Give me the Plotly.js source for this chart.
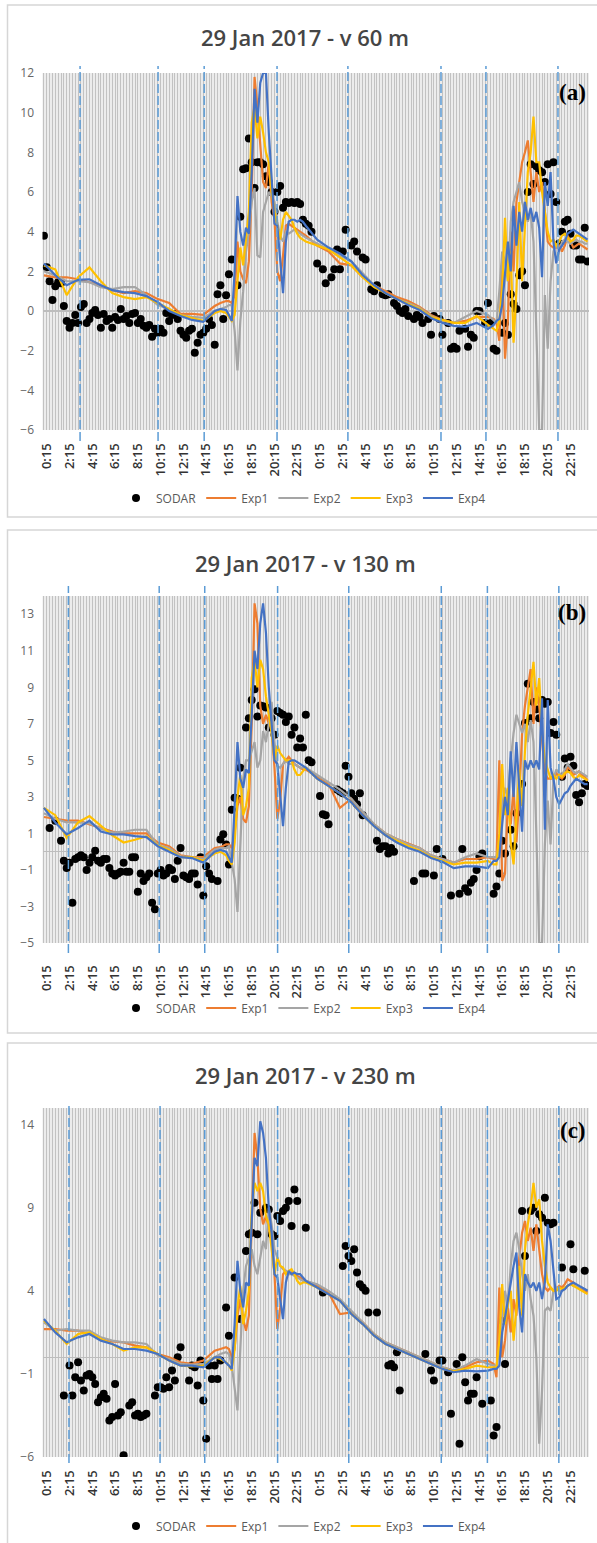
<!DOCTYPE html>
<html><head><meta charset="utf-8">
<script src="https://cdn.plot.ly/plotly-3.0.1.min.js"></script>
<style>html,body{margin:0;padding:0;background:#fff}#chart{width:597px;height:1543px}</style>
</head><body><div id="chart"></div>
<script>
// ---------------- DATA ----------------
// 15-min categories over two days (0:00 ... 23:45, twice)
const N_CAT = 192;
const CATEGORIES = [];
for (let i = 0; i < N_CAT; i++) { const m = (i % 96) * 15; CATEGORIES.push(Math.floor(m / 60) + ':' + String(m % 60).padStart(2, '0')); }
const LABEL_STEP = 8, LABEL_OFFSET = 1; // labels 0:15, 2:15, ...

// category indices at which the model curves were read
const MODEL_T = [0,4,8,12,16,20,24,28,32,36,40,44,48,52,56,60,62,64,
 65,66,67,68,69,70,71,72,73,74,75,76,77,78,79,80,81,82,83,84,85,86,87,88,89,90,91,92,
 96,100,104,108,112,116,120,124,128,132,136,140,144,148,152,156,158,
 159,160,161,162,163,164,165,166,167,168,169,170,171,172,173,174,175,176,177,178,179,180,181,182,183,184,185,186,187,188,189,190,191];

// ---- panel (a) 60 m ----
const A_EXP1 = [1.8,1.7,1.7,1.6,1.45,1.3,1.05,0.9,1.0,0.9,0.6,0.4,-0.15,-0.15,-0.2,0.25,0.4,0.5,
 0.5,0.4,0.8,3.5,2.0,1.6,1.4,2.5,6.0,11.8,10.3,8.5,6.5,6.2,7.5,5.5,4.6,2.0,1.5,2.8,4.3,4.4,4.3,4.2,4.1,4.0,3.9,3.8,
 3.3,3.0,2.4,2.3,1.7,1.3,1.0,0.7,0.5,0.2,-0.2,-0.45,-0.6,-0.5,-0.3,-0.3,-0.4,
 -0.6,-1.5,2.5,-2.4,-0.5,4.0,2.0,5.5,6.5,7.5,8.0,8.6,7.0,5.5,7.0,6.0,6.5,5.0,3.5,3.3,3.2,3.2,3.3,3.0,3.3,3.8,3.5,3.2,3.3,3.4,3.3,3.2,3.1];
const A_EXP2 = [2.0,1.8,1.5,1.5,1.45,1.2,1.1,1.2,1.2,0.8,0.3,0.1,-0.2,-0.3,-0.35,0.0,0.1,0.2,
 0.3,0.3,-1.0,-3.0,-0.5,1.0,3.0,4.0,5.5,6.2,2.8,2.7,5.0,5.5,6.0,5.8,5.5,4.5,3.8,3.5,4.0,3.9,4.0,4.1,4.0,3.9,3.8,3.7,
 3.4,3.1,2.8,2.5,1.9,1.3,0.9,0.6,0.4,0.15,-0.25,-0.5,-0.6,-0.3,0.0,-0.2,-0.5,
 -0.6,1.0,3.0,2.5,1.5,4.5,5.5,6.0,6.5,5.5,5.0,4.5,5.0,3.5,-1.0,-6.0,-6.0,0.8,-1.9,1.5,3.0,3.4,3.0,3.5,3.6,3.5,3.4,3.5,3.6,3.5,3.5,3.4,3.4];
const A_EXP3 = [2.3,2.1,0.8,1.7,2.2,1.5,0.9,0.7,0.6,0.7,0.4,0.1,-0.2,-0.35,-0.5,-0.1,0.0,-0.1,
 -0.3,-0.5,-0.2,1.5,3.2,2.3,3.5,5.0,9.5,10.3,8.7,9.8,9.0,8.0,7.5,6.0,5.0,4.2,3.6,4.6,5.0,4.8,4.6,4.2,3.9,3.7,3.6,3.5,
 3.3,3.1,2.7,2.3,1.7,1.2,0.9,0.6,0.35,0.1,-0.3,-0.45,-0.6,-0.6,-0.25,-0.7,-0.9,
 -1.0,-0.5,1.0,4.7,1.5,3.0,-1.6,1.0,5.5,1.5,4.0,7.0,8.0,9.8,7.5,7.5,6.0,5.0,4.0,3.5,3.6,3.3,3.5,3.8,3.9,3.7,3.5,3.6,3.8,3.8,3.7,3.6,3.5];
const A_EXP4 = [2.4,1.8,1.3,1.57,1.6,1.3,1.05,0.95,0.9,0.75,0.45,0.0,-0.25,-0.45,-0.55,0.0,0.1,0.05,
 -0.2,-0.5,2.0,5.8,4.0,3.3,4.2,3.9,7.0,11.2,9.5,11.5,12.0,12.0,9.0,6.5,4.4,4.3,2.6,0.9,3.5,4.5,4.6,4.6,4.5,4.6,4.5,4.3,
 3.6,3.2,2.9,2.5,1.8,1.3,0.9,0.6,0.3,0.05,-0.35,-0.6,-0.75,-0.8,-0.6,-0.9,-0.7,
 -0.5,-0.4,0.3,2.0,3.5,2.0,5.3,3.3,5.0,4.0,5.5,4.6,5.2,4.5,5.0,4.2,1.7,6.5,5.3,7.0,3.5,2.4,3.1,3.3,3.5,3.9,4.0,4.1,4.0,3.9,3.8,3.7,3.6];
const A_SODAR = [[0,3.8],[1,2.2],[2,1.5],[3,0.55],[4,1.25],[5,1.45],[6,1.4],[7,0.25],[8,-0.5],[9,-0.85],[10,-0.6],[11,-0.2],[12,-0.6],[13,0.2],[14,0.35],[15,-0.6],[16,-0.4],[17,-0.1],[18,0.05],[19,-0.2],[20,-0.85],[21,-0.15],[22,-0.5],[23,-0.4],[24,-0.85],[25,-0.3],[26,-0.45],[27,0.1],[28,-0.4],[29,-0.25],[30,-0.6],[31,-0.15],[32,-0.1],[33,-0.6],[34,-0.4],[35,-0.75],[36,-0.85],[37,-0.7],[38,-1.3],[39,-0.9],[40,-1.1],[41,-0.9],[42,-1.1],[43,-0.1],[44,-0.5],[45,-0.2],[46,-0.15],[47,-0.4],[48,-1.0],[49,-1.2],[50,-1.35],[51,-1.0],[52,-0.9],[53,-2.1],[54,-1.6],[55,-1.2],[56,-1.1],[57,-0.9],[58,-0.4],[59,-0.7],[60,-1.7],[61,0.85],[62,1.3],[63,-0.4],[64,0.8],[65,1.85],[66,2.6],
 [68,1.3],[69,4.75],[70,7.15],[71,7.2],[72,8.7],[73,7.5],[74,6.2],[75,7.5],[76,7.5],[77,7.4],[78,6.8],[79,6.5],[80,6.0],[81,5.0],[82,6.0],[83,6.3],[84,5.2],[85,5.5],[86,5.45],[87,5.5],[88,5.45],[89,5.5],[90,5.4],[91,4.6],[92,4.4],[93,4.3],[94,4.0],
 [96,2.4],[98,2.1],[99,1.4],[101,1.7],[102,2.1],[103,3.1],[104,2.1],[105,3.0],[106,4.1],[108,3.3],[109,3.5],[110,3.0],[112,2.7],[113,2.6],[115,1.1],[116,1.0],[117,1.3],[119,0.85],[120,0.8],[121,0.85],[123,0.4],[124,0.25],[125,0.0],[126,-0.1],[127,0.1],[128,-0.25],[130,-0.4],[131,-0.2],[132,-0.3],[133,-0.6],[135,-0.4],[136,-1.2],[137,-0.25],[139,-0.4],[140,-1.2],[142,-0.6],[143,-1.9],[144,-1.8],[145,-1.9],[146,-1.0],[148,-0.9],[149,-1.8],[150,-1.2],[151,-1.35],[152,0.0],[153,0.0],[155,-0.6],[156,0.4],[157,-0.6],[158,-1.9],[159,-2.0],
 [161,-1.1],[162,-0.6],[163,-1.2],[164,0.85],[165,0.35],[166,0.1],[167,1.8],[168,2.0],[169,1.3],[170,6.0],[171,7.4],[172,6.4],[173,7.3],[174,7.1],[175,7.0],[176,6.5],[177,7.4],[178,5.9],[179,7.5],[180,5.5],[181,3.4],[182,4.0],[183,4.5],[184,4.6],[185,3.9],[186,3.3],[187,3.3],[188,2.6],[189,2.6],[190,4.2],[191,2.5]];

// ---- panel (b) 130 m ----
const B_EXP1 = [1.9,1.8,1.7,1.7,1.5,1.3,1.1,1.0,1.0,1.0,0.5,0.3,-0.2,-0.3,-0.3,0.2,0.25,0.4,
 0.4,0.2,1.0,2.5,3.0,1.8,1.6,2.5,7.0,13.6,12.5,8.0,7.0,7.5,7.0,6.8,4.6,1.8,2.8,4.8,5.0,5.2,5.0,4.8,4.7,4.6,4.5,4.5,
 4.1,3.7,2.4,2.9,2.1,1.5,1.0,0.7,0.45,0.2,-0.2,-0.4,-0.6,-0.4,-0.4,-0.3,-0.4,
 -0.5,5.0,-1.6,-1.2,2.8,1.5,3.5,0.5,3.0,6.5,8.0,9.0,10.0,7.0,9.0,8.0,6.0,4.3,4.0,4.0,4.0,4.3,4.1,4.0,4.2,4.6,4.5,4.2,4.3,4.4,4.2,4.1,3.9];
const B_EXP2 = [2.1,1.8,1.6,1.6,1.55,1.25,1.05,1.1,1.2,1.2,0.35,0.2,-0.25,-0.3,-0.4,0.1,0.2,0.2,
 0.3,-0.5,-1.5,-3.3,0.0,4.0,5.0,5.0,5.5,6.0,4.6,5.0,6.6,6.0,7.0,8.2,6.0,4.7,4.6,4.8,5.0,4.8,4.8,4.8,4.7,4.6,4.6,4.6,
 4.2,3.8,3.4,2.9,2.2,1.5,1.0,0.7,0.4,0.2,-0.2,-0.4,-0.6,-0.3,-0.1,-0.3,-0.3,
 -0.3,0.5,2.5,3.5,3.0,5.0,6.5,7.5,7.0,6.5,7.0,6.0,7.2,6.0,1.0,-5.0,-5.0,0.4,2.8,0.4,4.0,4.5,4.3,4.2,4.5,4.8,4.6,4.4,4.3,4.4,4.3,4.2,4.1];
const B_EXP3 = [2.4,2.0,0.76,1.6,1.95,1.4,0.9,0.5,0.65,0.85,0.35,0.1,-0.3,-0.3,-0.5,-0.1,0.0,-0.2,
 -0.5,-0.7,0.5,3.0,4.2,2.0,2.5,3.5,9.5,10.5,9.0,10.5,10.0,8.5,7.5,6.5,5.0,5.8,5.4,5.2,5.0,5.0,5.0,4.5,4.2,4.2,4.4,4.6,
 4.0,3.6,3.2,2.7,2.0,1.4,0.9,0.6,0.3,0.05,-0.3,-0.5,-0.7,-0.6,-0.6,-0.5,-0.7,
 -0.7,1.0,4.8,2.0,3.5,0.5,-0.7,2.0,4.5,2.5,5.5,7.5,9.0,10.4,8.0,9.5,6.5,5.0,4.5,4.0,4.2,4.0,4.2,4.1,4.3,4.4,4.3,4.1,4.0,4.2,4.1,4.0,3.9];
const B_EXP4 = [2.4,1.6,0.95,1.3,1.7,1.1,0.95,0.95,0.85,0.8,0.3,0.0,-0.3,-0.35,-0.6,0.0,0.1,0.0,
 -0.3,-0.6,2.5,6.0,4.0,3.5,4.5,4.3,7.5,11.0,10.0,12.5,13.6,12.0,9.0,7.0,5.0,4.8,3.0,1.4,3.5,4.9,5.0,5.0,4.9,4.8,4.7,4.6,
 4.0,3.6,3.2,2.7,2.0,1.4,0.9,0.5,0.2,0.0,-0.35,-0.55,-0.9,-0.8,-0.8,-0.9,-0.5,
 -0.5,-0.3,1.5,3.0,2.0,5.5,3.0,6.0,3.5,1.1,5.0,4.5,5.0,4.6,5.0,4.5,8.4,1.2,8.3,4.6,4.0,3.0,2.6,2.9,3.2,3.3,3.6,3.8,4.0,3.9,3.8,3.7,3.7];
const B_SODAR = [[2,1.3],[4,1.7],[6,0.6],[7,-0.5],[8,-0.9],[9,-0.6],[10,-2.8],[11,-0.4],[12,-0.3],[13,-0.2],[14,-0.3],[15,-1.0],[16,-0.6],[17,-0.3],[18,0.05],[19,-0.5],[20,-0.6],[21,-0.4],[22,-0.4],[23,-0.9],[24,-1.2],[25,-1.3],[26,-1.2],[27,-1.1],[28,-0.6],[29,-1.1],[30,-1.1],[31,-0.3],[32,-0.3],[33,-2.2],[34,-1.2],[35,-1.6],[36,-1.4],[37,-1.2],[38,-2.8],[39,-3.15],[40,-1.2],[41,-1.0],[42,-1.3],[43,-1.2],[44,-0.9],[45,-1.0],[46,-1.5],[47,-0.5],[48,0.2],[49,-1.3],[50,-1.4],[51,-1.5],[52,-1.2],[53,-1.2],[54,-1.8],[55,-0.3],[56,-2.4],[57,-0.8],[58,-1.2],[59,-1.5],[61,-1.6],[62,0.67],[63,0.95],[64,0.4],[65,-0.7],[66,2.3],[67,2.95],[68,2.9],[69,4.6],
 [71,6.8],[72,7.3],[73,8.3],[74,8.9],[75,7.4],[76,8.0],[77,7.96],[78,7.9],[79,6.8],[80,7.3],[81,6.4],[82,7.7],[83,7.6],[84,7.5],[85,7.1],[86,7.4],[87,6.4],[88,6.8],[89,5.7],[90,6.2],[91,5.7],[92,7.5],[93,5.0],[94,4.9],
 [97,3.05],[98,2.05],[99,2.0],[100,1.5],[103,3.4],[104,3.3],[105,3.2],[106,4.7],[107,4.1],[108,3.2],[109,2.9],[110,2.6],[111,3.2],[112,2.0],[117,0.6],[118,0.15],[119,0.3],[120,0.3],[121,-0.1],[122,0.2],[123,0.0],[130,-1.6],[133,-1.2],[134,-1.2],[137,-1.3],[138,0.15],[140,-0.4],[143,-2.4],[146,-2.3],[147,0.15],[148,-2.0],[149,-2.2],[150,-1.7],[151,-1.5],[152,-1.0],[153,-0.25],[154,-0.1],[158,-2.3],[159,-1.9],[160,-1.2],[161,0.6],[162,-0.1],[164,1.2],[165,0.3],[166,2.1],[168,3.7],
 [169,7.05],[170,9.2],[171,7.3],[172,8.2],[173,7.8],[174,7.3],[175,8.3],[176,8.1],[177,8.2],[178,6.5],[179,7.1],[180,6.4],[182,4.1],[183,5.1],[184,4.6],[185,5.2],[186,4.7],[187,3.1],[188,2.7],[189,3.2],[190,3.7],[191,3.6]];

// ---- panel (c) 230 m ----
const C_EXP1 = [1.7,1.7,1.6,1.6,1.4,1.1,0.95,0.9,0.7,0.6,0.2,0.0,-0.3,-0.4,-0.2,0.4,0.5,0.6,
 0.5,0.0,0.5,2.5,3.5,2.3,1.6,2.5,8.0,13.5,12.0,9.0,8.0,8.5,7.8,7.0,5.0,1.7,3.0,5.0,5.2,5.0,5.1,5.0,4.9,4.8,4.7,4.6,
 4.3,3.9,2.6,2.7,2.1,1.4,0.9,0.6,0.3,0.0,-0.3,-0.6,-0.8,-0.6,-0.3,-0.2,-0.4,
 -1.2,4.2,0.0,1.0,3.0,1.5,3.5,2.5,6.0,7.5,8.2,7.0,7.8,6.4,8.0,6.5,5.0,4.2,4.0,4.2,4.0,4.1,4.3,4.2,4.4,4.7,4.6,4.5,4.3,4.2,4.1,4.0,3.9];
const C_EXP2 = [2.1,1.6,1.7,1.6,1.6,1.2,1.0,0.9,0.9,0.8,0.1,-0.1,-0.4,-0.45,-0.4,0.0,0.2,0.3,
 0.2,-0.5,-2.0,-3.2,0.5,4.0,5.5,6.0,6.5,5.5,5.0,6.0,7.0,6.5,9.0,8.0,6.5,6.0,5.5,5.3,5.2,5.0,5.0,4.9,4.8,4.7,4.6,4.6,
 4.4,4.0,3.5,2.8,2.1,1.4,0.9,0.6,0.3,0.0,-0.3,-0.6,-0.8,-0.5,-0.1,-0.4,-0.5,
 -0.5,0.5,2.5,4.0,3.0,5.5,7.0,7.5,6.5,5.0,4.0,5.0,3.5,2.5,0.0,-5.2,-2.0,2.8,3.0,2.8,4.0,4.2,4.0,4.0,4.1,4.3,4.4,4.3,4.3,4.2,4.2,4.1,4.0];
const C_EXP3 = [2.2,1.6,0.8,1.4,1.5,1.1,0.8,0.4,0.6,0.6,0.2,-0.2,-0.5,-0.55,-0.5,0.0,-0.1,-0.3,
 -0.5,-0.8,0.5,3.0,4.3,2.0,2.8,4.0,9.0,10.5,10.0,10.5,10.0,8.5,8.0,6.5,5.0,6.0,5.5,5.4,5.0,5.2,5.3,5.0,4.6,4.4,4.5,4.5,
 4.2,3.8,3.4,2.6,2.0,1.3,0.8,0.5,0.2,-0.1,-0.4,-0.7,-0.85,-0.7,-0.5,-0.6,-0.6,
 -0.6,1.0,4.4,2.0,3.2,4.0,1.0,3.0,5.5,2.5,6.5,8.0,9.0,10.5,9.0,9.5,7.0,5.5,4.5,4.2,4.0,4.0,4.2,4.1,4.2,4.3,4.4,4.3,4.2,4.1,4.0,3.9,3.8];
const C_EXP4 = [2.3,1.5,0.9,1.2,1.4,1.0,0.8,0.5,0.5,0.4,0.2,-0.2,-0.5,-0.5,-0.6,0.0,0.0,-0.3,
 -0.5,-0.7,2.0,5.8,4.0,3.0,4.5,4.3,8.0,12.0,11.5,14.2,13.5,12.0,9.0,7.5,5.0,4.8,3.5,2.3,4.5,5.2,5.0,5.1,5.0,5.0,4.8,4.6,
 4.2,3.8,3.4,2.6,2.0,1.3,0.8,0.5,0.2,-0.1,-0.4,-0.7,-0.9,-0.8,-0.85,-0.8,-0.7,
 -0.7,-0.5,1.5,2.4,3.5,4.5,5.5,6.3,3.0,1.5,5.0,4.5,4.2,4.5,4.0,4.5,3.5,4.5,8.0,7.0,5.0,3.5,3.6,4.0,4.1,4.3,4.4,4.5,4.4,4.3,4.2,4.1,4.0];
const C_SODAR = [[7,-2.3],[9,-0.5],[10,-2.3],[11,-1.2],[12,-0.3],[13,-1.4],[14,-2.0],[15,-1.1],[16,-1.0],[17,-1.2],[18,-1.6],[19,-2.7],[20,-2.4],[21,-2.2],[22,-2.5],[23,-3.8],[24,-3.6],[25,-1.6],[26,-3.5],[27,-3.3],[28,-5.9],[30,-2.9],[31,-2.7],[32,-3.5],[33,-3.4],[34,-3.6],[35,-3.5],[36,-3.4],[39,-2.3],[40,-1.8],[41,-1.8],[42,-1.9],[43,-1.2],[44,-1.8],[45,-0.8],[46,-1.4],[47,0.0],[48,0.6],[51,-1.4],[52,-0.5],[53,-0.6],[54,-1.7],[55,-0.2],[56,-2.6],[57,-4.9],[58,-0.5],[59,-1.3],[60,-0.5],[61,-1.3],[62,-0.2],[64,3.0],[65,1.3],[67,4.8],[69,2.3],
 [71,6.4],[72,7.4],[73,7.5],[74,9.3],[75,7.4],[76,8.7],[78,9.0],[79,8.9],[80,7.4],[81,7.3],[82,8.5],[83,8.2],[84,8.8],[85,9.0],[86,9.4],[87,7.9],[88,10.1],[89,9.4],[92,7.8],[98,3.9],
 [105,5.5],[106,6.7],[107,6.1],[108,5.8],[109,6.5],[110,5.1],[111,4.4],[112,4.2],[113,4.0],[114,2.7],[117,2.7],[121,-0.5],[122,-0.4],[123,-0.6],[124,0.3],[125,-2.0],[134,0.2],[136,-0.8],[137,-1.4],[139,-0.2],[140,-0.2],[142,-0.9],[143,-3.4],[145,-0.4],[146,-5.2],[147,0.0],[148,-1.5],[149,-2.6],[150,-2.2],[151,-2.2],[152,-1.2],[154,-2.8],[157,-2.6],[158,-4.7],[159,-4.2],[161,2.2],[162,-0.4],
 [168,8.8],[169,6.1],[171,8.8],[172,9.0],[173,7.6],[174,8.6],[175,8.4],[176,9.6],[177,8.1],[178,8.0],[179,8.1],[182,5.4],[185,6.8],[186,5.3],[190,5.2]];

// event markers (dashed lines), in category-index units
const A_EVENTS = [12.7,40.1,56.3,81.9,106.8,139.5,155.3,180.6];
const B_EVENTS = [8.6,40.5,56.5,82.1,107.1,139.6,155.8,180.9];
const C_EVENTS = [8.8,40.8,56.5,82.1,107.1,139.6,155.8,180.9];

const TITLES = ['29 Jan 2017 - v 60 m','29 Jan 2017 - v 130 m','29 Jan 2017 - v 230 m'];
const TAGS = ['(a)','(b)','(c)'];
const SERIES_NAMES = ['SODAR','Exp1','Exp2','Exp3','Exp4'];

// ---------------- STYLE / LAYOUT ----------------
const W = 597, H = 1543;
const PX = x => x / W, PY = y => 1 - y / H;
const COLORS = ['#000000','#ED7D31','#A5A5A5','#FFC000','#4472C4'];
const PANELS = [
  {models:[A_EXP1,A_EXP2,A_EXP3,A_EXP4], sodar:A_SODAR, events:A_EVENTS, range:[-6,12], tick0:0, dtick:2,
   top:73, bottom:430, boxTop:5, boxBottom:517, titleY:37, tagY:92, legendY:498, gap:7, evTop:66, evBottom:441},
  {models:[B_EXP1,B_EXP2,B_EXP3,B_EXP4], sodar:B_SODAR, events:B_EVENTS, range:[-5,14], tick0:-5, dtick:2,
   top:596, bottom:943, boxTop:530, boxBottom:1033, titleY:563, tagY:613, legendY:1008, gap:16, evTop:586, evBottom:953},
  {models:[C_EXP1,C_EXP2,C_EXP3,C_EXP4], sodar:C_SODAR, events:C_EVENTS, range:[-6,15], tick0:-6, dtick:5,
   top:1108, bottom:1457, boxTop:1043, boxBottom:1560, titleY:1075, tagY:1130, legendY:1526, gap:7, evTop:1104, evBottom:1463}
];

const tickVals = CATEGORIES.map((c, i) => i);
const tickText = CATEGORIES.map((c, i) => (i % LABEL_STEP === LABEL_OFFSET) ? c : '');

const traces = [], shapes = [], annotations = [];
const layout = {
  width: W, height: H, margin: {l:0, r:0, t:0, b:0},
  paper_bgcolor: '#ffffff', plot_bgcolor: '#ececec',
  font: {family: 'Open Sans, Liberation Sans, sans-serif'},
  showlegend: true
};

PANELS.forEach((p, k) => {
  const sfx = k === 0 ? '' : String(k + 1);
  const xa = 'x' + sfx, ya = 'y' + sfx, lg = 'legend' + sfx;
  traces.push({type:'scatter', mode:'markers', name:SERIES_NAMES[0], xaxis:xa, yaxis:ya, legend:lg,
    x: p.sodar.map(d => d[0]), y: p.sodar.map(d => d[1]),
    marker:{color:COLORS[0], size:8}, cliponaxis:true});
  p.models.forEach((vals, j) => {
    traces.push({type:'scatter', mode:'lines', name:SERIES_NAMES[j+1], xaxis:xa, yaxis:ya, legend:lg,
      x: MODEL_T, y: vals, line:{color:COLORS[j+1], width:2.2}});
  });
  layout['xaxis' + sfx] = {
    domain:[PX(42.5), PX(589)], range:[-0.5, N_CAT - 0.5], anchor:ya,
    tickmode:'array', tickvals:tickVals, ticktext:tickText, tickangle:-90,
    ticks:'outside', ticklen:p.gap, tickcolor:'rgba(0,0,0,0)',
    tickfont:{size:13, color:'#333333', weight:600},
    showgrid:true, gridcolor:'#c2c2c2', gridwidth:1, zeroline:false, showline:false, fixedrange:true
  };
  layout['yaxis' + sfx] = {
    domain:[PY(p.bottom), PY(p.top)], range:p.range, anchor:xa,
    tickmode:'linear', tick0:p.tick0, dtick:p.dtick,
    ticks:'outside', ticklen:5, tickcolor:'rgba(0,0,0,0)',
    tickfont:{size:12, color:'#666666'},
    showgrid:false, zeroline:true, zerolinecolor:'#bdbdbd', zerolinewidth:1.5, showline:false, fixedrange:true
  };
  layout[lg] = {orientation:'h', x:PX(116), xanchor:'left', y:PY(p.legendY), yanchor:'middle',
    font:{size:12, color:'#595959'}, bgcolor:'rgba(0,0,0,0)'};
  shapes.push({type:'rect', xref:'paper', yref:'paper', x0:PX(7.5), x1:PX(605), y0:PY(p.boxBottom), y1:PY(p.boxTop),
    line:{color:'#d6d6d6', width:1.5}, fillcolor:'rgba(0,0,0,0)', layer:'below'});
  p.events.forEach(ev => {
    shapes.push({type:'line', xref:xa, yref:'paper', x0:ev, x1:ev, y0:PY(p.evBottom), y1:PY(p.evTop),
      line:{color:'#5B9BD5', width:1.5, dash:'9px,3px'}});
  });
  annotations.push({xref:'paper', yref:'paper', x:PX(305), y:PY(p.titleY), xanchor:'center', yanchor:'middle',
    text:TITLES[k], showarrow:false, font:{size:22, color:'#454545', weight:600}});
  annotations.push({xref:'paper', yref:'paper', x:PX(588), y:PY(p.tagY), xanchor:'right', yanchor:'middle',
    text:'<b>' + TAGS[k] + '</b>', showarrow:false, font:{family:'Liberation Serif, serif', size:23, color:'#000'}});
});
layout.shapes = shapes;
layout.annotations = annotations;

Plotly.newPlot('chart', traces, layout, {staticPlot:true, displayModeBar:false});
</script>
</body></html>
